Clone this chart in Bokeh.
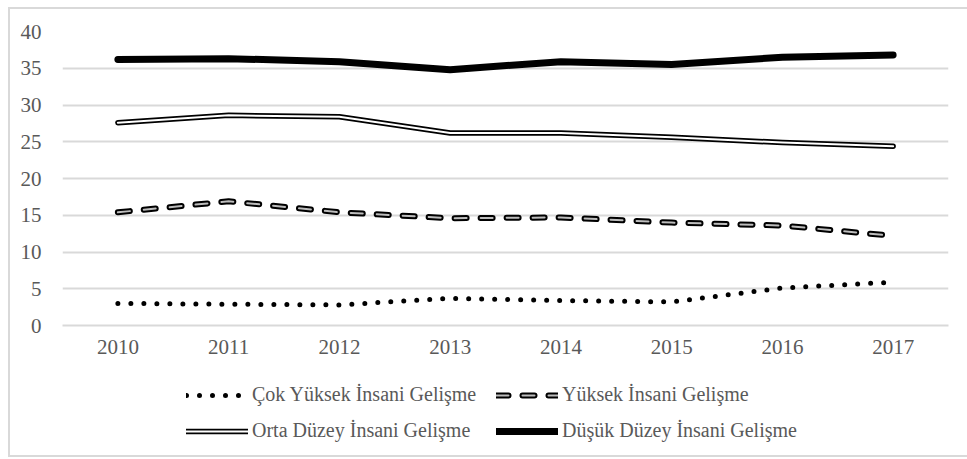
from bokeh.plotting import figure
from bokeh.layouts import column
from bokeh.models import Legend, LegendItem, FixedTicker, ColumnDataSource
from bokeh.embed import file_html
from bokeh.resources import INLINE

years = ["2010", "2011", "2012", "2013", "2014", "2015", "2016", "2017"]
cok_yuksek = [3.0, 2.9, 2.8, 3.7, 3.4, 3.2, 5.1, 5.9]
yuksek = [15.4, 16.9, 15.4, 14.6, 14.7, 14.0, 13.6, 12.2]
orta = [27.6, 28.6, 28.4, 26.2, 26.2, 25.6, 24.9, 24.4]
dusuk = [36.2, 36.3, 35.9, 34.8, 35.9, 35.5, 36.5, 36.8]
y_ticks = [0, 5, 10, 15, 20, 25, 30, 35, 40]

names = ["Çok Yüksek İnsani Gelişme", "Yüksek İnsani Gelişme",
         "Orta Düzey İnsani Gelişme", "Düşük Düzey İnsani Gelişme"]

FONT = "Liberation Serif"
GRAY = "#595959"

src = ColumnDataSource(dict(x=years, c=cok_yuksek, y=yuksek, o=orta, d=dusuk))


def draw_lines(fig):
    r_d = fig.line("x", "d", source=src, line_color="black", line_width=7,
                   line_cap="round", line_join="round")
    r_o1 = fig.line("x", "o", source=src, line_color="black", line_width=5.5,
                    line_cap="round", line_join="round")
    r_o2 = fig.line("x", "o", source=src, line_color="white", line_width=2,
                    line_cap="round", line_join="round")
    r_y1 = fig.line("x", "y", source=src, line_color="black", line_width=6,
                    line_cap="round", line_join="round", line_dash="12 14")
    r_y2 = fig.line("x", "y", source=src, line_color="#bdbdbd", line_width=2,
                    line_cap="round", line_join="round", line_dash="12 14")
    r_c = fig.line("x", "c", source=src, line_color="black", line_width=5,
                   line_cap="round", line_join="round", line_dash="0 13")
    return r_c, (r_y1, r_y2), (r_o1, r_o2), r_d


p = figure(x_range=years, y_range=(0, 40), width=957, height=356,
           output_backend="svg", toolbar_location=None,
           min_border_left=52, min_border_right=19, min_border_top=22,
           min_border_bottom=40)
p.outline_line_color = None
draw_lines(p)

p.xgrid.grid_line_color = None
p.ygrid.grid_line_color = "#d9d9d9"
p.ygrid.grid_line_width = 2
p.yaxis.ticker = FixedTicker(ticks=y_ticks)

for ax in (p.xaxis[0], p.yaxis[0]):
    ax.axis_line_color = None
    ax.major_tick_line_color = None
    ax.minor_tick_line_color = None
    ax.major_label_text_font = FONT
    ax.major_label_text_font_size = "21px"
    ax.major_label_text_color = GRAY
p.xaxis.axis_line_color = "#d9d9d9"
p.xaxis.axis_line_width = 2
p.xaxis.major_label_standoff = 8
p.yaxis.major_label_standoff = 15
p.x_range.range_padding = 0

# legend panel: same series, drawn outside its visible range so only the legend shows
q = figure(x_range=years, y_range=(100, 200), width=957, height=90,
           output_backend="svg", toolbar_location=None,
           min_border_left=0, min_border_right=0, min_border_top=0,
           min_border_bottom=0)
q.outline_line_color = None
q.axis.visible = False
q.grid.visible = False
r_c, r_y, r_o, r_d = draw_lines(q)

legend = Legend(items=[
    LegendItem(label=names[0], renderers=[r_c]),
    LegendItem(label=names[1], renderers=list(r_y)),
    LegendItem(label=names[2], renderers=list(r_o)),
    LegendItem(label=names[3], renderers=[r_d]),
], orientation="horizontal", nrows=2, location=(124, 13))
legend.label_text_font = FONT
legend.label_text_font_size = "20px"
legend.label_text_color = GRAY
legend.glyph_width = 62
legend.glyph_height = 20
legend.label_height = 20
legend.label_width = 231
legend.label_standoff = 4
legend.spacing = 13
legend.padding = 0
legend.margin = 0
legend.border_line_color = None
legend.background_fill_alpha = 0
q.add_layout(legend, "center")

layout = column(p, q, spacing=0)
layout.styles = {"border": "2px solid #d9d9d9", "border-right": "none",
                 "margin-top": "7px", "margin-left": "8px"}

open("out.html", "w").write(file_html(layout, INLINE))
